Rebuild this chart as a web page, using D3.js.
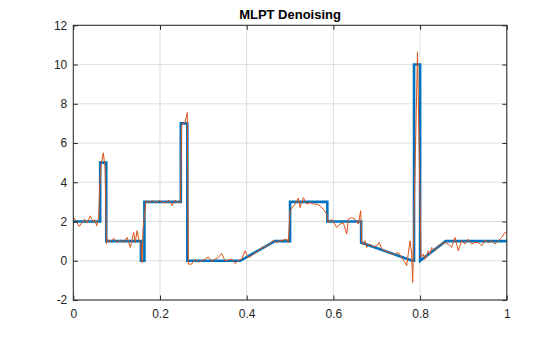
<!DOCTYPE html>
<html><head><meta charset="utf-8">
<script src="https://cdn.jsdelivr.net/npm/d3@7"></script>
<style>
html,body{margin:0;padding:0;background:#fff;}
svg{display:block;font-family:"Liberation Sans",Arial,Helvetica,sans-serif;}
</style></head>
<body>
<svg id="c" width="560" height="337"></svg>
<script>
const title = "MLPT Denoising";
const xTicks = [0, 0.2, 0.4, 0.6, 0.8, 1];
const yTicks = [-2, 0, 2, 4, 6, 8, 10, 12];
// true (piecewise) signal
const trueX = [0,0.062,0.062,0.076,0.076,0.156,0.156,0.164,0.164,0.248,0.248,0.263,0.263,0.385,0.465,0.5,0.5,0.586,0.586,0.664,0.664,0.782,0.786,0.786,0.8,0.8,0.859,1];
const trueY = [2,2,5,5,1,1,0,0,3,3,7,7,0,0,1,1,3,3,2,2,0.93,0,0,10,10,0,1,1];
// denoised / noisy signal
const noisyX = [0.001,0.0085,0.0138,0.020,0.0263,0.0316,0.0392,0.0448,0.0494,0.054,0.0586,0.0604,0.064,0.0692,0.0731,0.0766,
0.0777,0.0854,0.0932,0.1008,0.1084,0.1163,0.1239,0.1315,0.1393,0.143,0.147,0.1522,0.1562,0.1585,0.1608,
0.1677,0.1746,0.1823,0.1900,0.1977,0.2054,0.2131,0.2208,0.2285,0.2339,0.2416,0.2470,0.25,0.2577,0.263,0.2653,
0.2731,0.2807,0.2883,0.2962,0.3038,0.3114,0.3193,0.3269,0.3345,0.3423,0.35,0.3576,0.3654,0.373,0.3806,0.3885,0.3961,0.4037,0.4115,0.4191,
0.4231,0.4307,0.4383,0.4461,0.4537,0.4614,0.4692,0.4768,0.4844,0.4923,0.496,
0.4999,0.5114,0.519,0.523,0.5306,0.5384,0.546,0.5536,0.5615,0.5691,0.5767,0.5845,0.5882,
0.5961,0.6076,0.6152,0.6228,0.6307,0.6344,0.6422,0.6498,0.6574,0.663,0.6653,
0.669,0.6729,0.6768,0.6844,0.692,0.6999,0.7059,0.7114,0.719,0.7266,0.7382,0.7497,0.7575,0.7652,0.7691,0.7767,0.7806,0.7829,0.794,
0.8021,0.8074,0.8113,0.8189,0.8228,0.8268,0.8344,0.842,0.8498,0.8574,0.865,0.8729,0.8805,0.8881,0.896,0.9036,0.9112,0.919,0.9266,0.9343,0.9421,0.9497,0.9573,0.9652,0.9728,0.9804,0.9882,0.9958,1.0];
const noisyY = [2.2,1.95,1.75,1.95,2.12,1.92,2.29,1.99,2.09,1.78,2.25,3.5,4.9,5.5,4.8,0.85,
1.1,0.98,1.14,0.93,1.05,0.93,1.19,0.68,1.44,0.93,1.53,0.98,0.93,-0.09,1.6,
3.05,2.98,3.05,2.97,3.06,3.0,2.95,3.08,2.8,3.09,2.95,3.0,6.96,7.04,7.55,-0.17,
-0.17,0.08,-0.08,0.0,0.08,0.2,-0.03,0.08,0.17,0.37,0.0,0.03,0.08,-0.14,0.0,0.08,0.51,0.17,0.25,0.42,
0.42,0.6,0.68,0.76,0.85,1.05,0.93,1.02,1.05,1.1,0.93,
2.55,2.89,3.19,2.71,3.22,2.89,2.97,2.89,2.89,2.8,2.63,2.38,1.95,
2.12,1.7,1.87,1.95,1.36,2.12,2.2,2.12,1.87,2.55,0.93,
0.85,1.02,0.68,0.85,0.71,0.76,0.93,0.6,0.51,0.46,0.31,0.42,0.17,-0.09,-0.25,1.02,0.34,-1.1,10.65,
0.17,0.34,0.08,0.51,0.34,0.68,0.51,0.76,0.85,0.93,0.85,0.68,1.19,0.51,1.02,0.85,1.1,0.85,0.93,0.93,0.76,1.05,0.93,1.02,0.85,1.02,1.19,1.44,1.42];

const L = 73.3, R = 506.8, T = 25.3, B = 300;
const svg = d3.select("#c");
const x = d3.scaleLinear().domain([0,1]).range([L,R]);
const y = d3.scaleLinear().domain([-2,12]).range([B,T]);
const axisColor = "#262626";

// grid
const g = svg.append("g");
g.selectAll("line.gx").data(xTicks).join("line")
  .attr("x1", d=>x(d)).attr("x2", d=>x(d)).attr("y1", T).attr("y2", B)
  .attr("stroke", "#dfdfdf").attr("stroke-width", 1);
g.selectAll("line.gy").data(yTicks).join("line")
  .attr("x1", L).attr("x2", R).attr("y1", d=>y(d)).attr("y2", d=>y(d))
  .attr("stroke", "#dfdfdf").attr("stroke-width", 1);

// lines
const trueData = trueX.map((v,i)=>[v,trueY[i]]);
const noisyData = noisyX.map((v,i)=>[v,noisyY[i]]);
const line = d3.line().x(d=>x(d[0])).y(d=>y(d[1]));
svg.append("path").datum(trueData).attr("d", line)
  .attr("fill","none").attr("stroke","#0072BD").attr("stroke-width",2.6).attr("stroke-linejoin","miter");
svg.append("path").datum(noisyData).attr("d", line)
  .attr("fill","none").attr("stroke","#D95319").attr("stroke-width",1).attr("stroke-linejoin","round");

// axes
function styleAxis(sel){
  sel.select(".domain").remove();
  sel.selectAll("line").attr("stroke", axisColor);
  sel.selectAll("text").attr("fill", axisColor).style("font-size","12px");
}
svg.append("g").attr("transform",`translate(0,${B})`)
  .call(d3.axisBottom(x).tickValues(xTicks).tickFormat(d3.format("")).tickSizeInner(-4.5).tickSizeOuter(0).tickPadding(9))
  .call(styleAxis);
svg.append("g").attr("transform",`translate(0,${T})`)
  .call(d3.axisTop(x).tickValues(xTicks).tickFormat("").tickSizeInner(-4.5).tickSizeOuter(0))
  .call(styleAxis);
svg.append("g").attr("transform",`translate(${L},0)`)
  .call(d3.axisLeft(y).tickValues(yTicks).tickFormat(d3.format("")).tickSizeInner(-4.5).tickSizeOuter(0).tickPadding(6))
  .call(styleAxis);
svg.append("g").attr("transform",`translate(${R},0)`)
  .call(d3.axisRight(y).tickValues(yTicks).tickFormat("").tickSizeInner(-4.5).tickSizeOuter(0))
  .call(styleAxis);
svg.selectAll("text").filter(function(){return this.textContent==="−2";}).text("-2");

svg.append("rect").attr("x",L).attr("y",T).attr("width",R-L).attr("height",B-T)
  .attr("fill","none").attr("stroke",axisColor).attr("stroke-width",1);

svg.append("text").attr("x",(L+R)/2).attr("y",19).attr("text-anchor","middle")
  .attr("font-weight","bold").style("font-size","13px").attr("fill","#000").text(title);
</script>
</body></html>
